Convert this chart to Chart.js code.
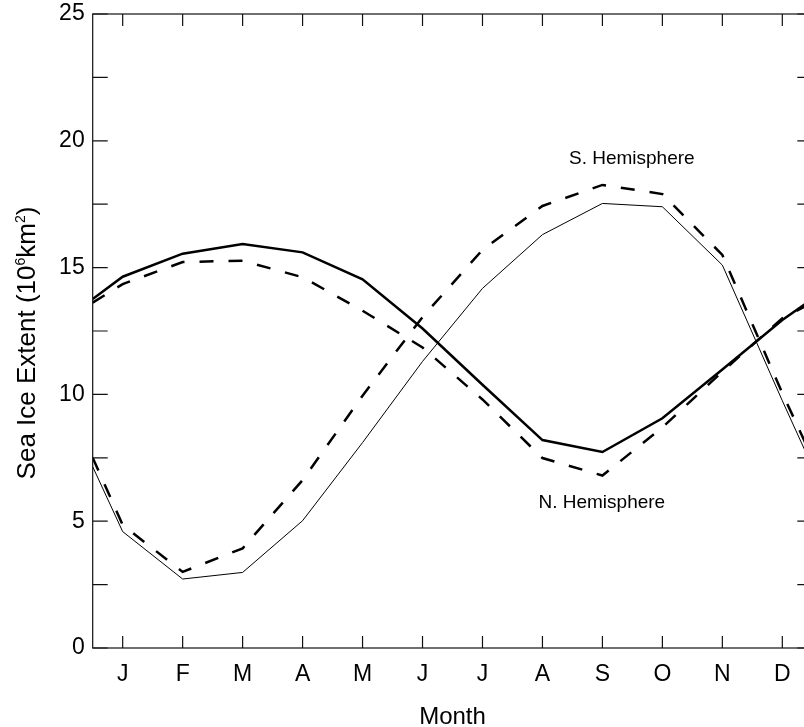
<!DOCTYPE html>
<html>
<head>
<meta charset="utf-8">
<script src="https://cdn.jsdelivr.net/npm/chart.js@4"></script>
<style>
  html, body { margin: 0; padding: 0; background: #fff; overflow: hidden; }
  #wrap { width: 804px; height: 727px; overflow: hidden; }
</style>
</head>
<body>
<div id="wrap"><canvas id="seaIce" width="820" height="727"></canvas></div>
<script>
// months on the x axis
const months = ['J', 'F', 'M', 'A', 'M', 'J', 'J', 'A', 'S', 'O', 'N', 'D'];

// N. Hemisphere, thick solid line (10^6 km^2)
const northSolid = [14.64, 15.55, 15.93, 15.6, 14.54, 12.6, 10.38, 8.2, 7.73, 9.06, 10.98, 12.93];
const northSolidEdge = 13.76;   // value at the Dec/Jan boundary (both plot edges)
// N. Hemisphere, dashed line
const northDashed = [14.35, 15.22, 15.27, 14.62, 13.3, 11.85, 9.8, 7.49, 6.8, 8.7, 10.9, 13.0];
const northDashedEdge = 13.62;

// S. Hemisphere, thin solid line
const southSolid = [4.59, 2.72, 2.98, 5.02, 8.1, 11.3, 14.18, 16.3, 17.53, 17.4, 15.1, 9.75];
const southSolidEdge = 7.15;
// S. Hemisphere, dashed line
const southDashed = [4.85, 3.0, 3.93, 6.62, 9.95, 13.05, 15.7, 17.43, 18.26, 17.9, 15.5, 10.05];
const southDashedEdge = 7.5;

const yTicks = [0, 5, 10, 15, 20, 25];

function toPoints(vals, edge) {
  const pts = [{x: -0.5, y: edge}];
  vals.forEach((v, i) => pts.push({x: i, y: v}));
  pts.push({x: 11.5, y: edge});
  return pts;
}

const FONT = "'Liberation Sans', Arial, Helvetica, sans-serif";

// frame, inward ticks, curve labels and the y title with superscripts
const frameTicks = {
  id: 'frameTicks',
  afterDraw(chart) {
    const {ctx, chartArea: a, scales: {x, y}} = chart;
    ctx.save();
    ctx.strokeStyle = '#111';
    ctx.lineWidth = 1.2;
    ctx.strokeRect(a.left, a.top, a.right - a.left, a.bottom - a.top);
    ctx.beginPath();
    x.ticks.forEach(t => {
      const px = x.getPixelForValue(t.value);
      ctx.moveTo(px, a.bottom); ctx.lineTo(px, a.bottom - 12);
      ctx.moveTo(px, a.top); ctx.lineTo(px, a.top + 12);
    });
    y.ticks.forEach(t => {
      const py = y.getPixelForValue(t.value);
      ctx.moveTo(a.left, py); ctx.lineTo(a.left + 15, py);
      ctx.moveTo(a.right, py); ctx.lineTo(a.right - 15, py);
    });
    ctx.stroke();

    // curve labels
    ctx.fillStyle = '#000';
    ctx.font = '19px ' + FONT;
    ctx.textAlign = 'center';
    ctx.textBaseline = 'middle';
    ctx.fillText('S. Hemisphere', x.getPixelForValue(8.49), y.getPixelForValue(19.28));
    ctx.fillText('N. Hemisphere', x.getPixelForValue(7.99), y.getPixelForValue(5.74));

    // y axis title
    const parts = [
      ['Sea Ice Extent (10', 26, 0],
      ['6', 14, -10],
      ['km', 26, 0],
      ['2', 14, -10],
      [')', 26, 0]
    ];
    let total = 0;
    parts.forEach(p => { ctx.font = p[1] + 'px ' + FONT; total += ctx.measureText(p[0]).width; });
    ctx.translate(26, 343);
    ctx.rotate(-Math.PI / 2);
    ctx.textAlign = 'left';
    ctx.textBaseline = 'alphabetic';
    let cx = -total / 2;
    parts.forEach(p => {
      ctx.font = p[1] + 'px ' + FONT;
      ctx.fillText(p[0], cx, 9 + p[2]);
      cx += ctx.measureText(p[0]).width;
    });
    ctx.restore();
  }
};

new Chart('seaIce', {
  type: 'line',
  data: {
    datasets: [{
      data: toPoints(southSolid, southSolidEdge),
      borderColor: '#000',
      borderWidth: 1,
      pointRadius: 0
    }, {
      data: toPoints(southDashed, southDashedEdge),
      borderColor: '#000',
      borderWidth: 2.5,
      borderDash: [14, 15],
      pointRadius: 0
    }, {
      data: toPoints(northDashed, northDashedEdge),
      borderColor: '#000',
      borderWidth: 2.5,
      borderDash: [14, 15],
      pointRadius: 0
    }, {
      data: toPoints(northSolid, northSolidEdge),
      borderColor: '#000',
      borderWidth: 2.5,
      pointRadius: 0
    }]
  },
  options: {
    responsive: false,
    animation: false,
    devicePixelRatio: 1,
    layout: {padding: {top: 14, right: 7.7, left: 0, bottom: 0}},
    plugins: {legend: {display: false}, tooltip: {enabled: false}},
    elements: {line: {tension: 0, borderJoinStyle: 'miter'}},
    scales: {
      x: {
        type: 'linear',
        min: -0.5,
        max: 11.5,
        afterBuildTicks: s => { s.ticks = months.map((m, i) => ({value: i})); },
        afterFit: s => { s.height = 79; s.paddingLeft = 0; s.paddingRight = 0; },
        grid: {display: false, drawTicks: false},
        border: {display: false},
        ticks: {
          autoSkip: false, maxRotation: 0, padding: 13,
          color: '#000', font: {family: FONT, size: 23},
          callback: v => months[v]
        },
        title: {
          display: true, text: 'Month', color: '#000',
          font: {family: FONT, size: 24, lineHeight: 0.83},
          padding: {top: 0, bottom: 0}
        }
      },
      y: {
        min: 0,
        max: 25,
        afterFit: s => { s.width = 92.7; s.paddingTop = 0; s.paddingBottom = 0; },
        grid: {display: false, drawTicks: false},
        border: {display: false},
        ticks: {
          stepSize: 2.5, autoSkip: false, padding: 8,
          color: '#000', font: {family: FONT, size: 23},
          callback: v => yTicks.includes(v) ? String(v) : ''
        }
      }
    }
  },
  plugins: [frameTicks]
});
</script>
</body>
</html>
